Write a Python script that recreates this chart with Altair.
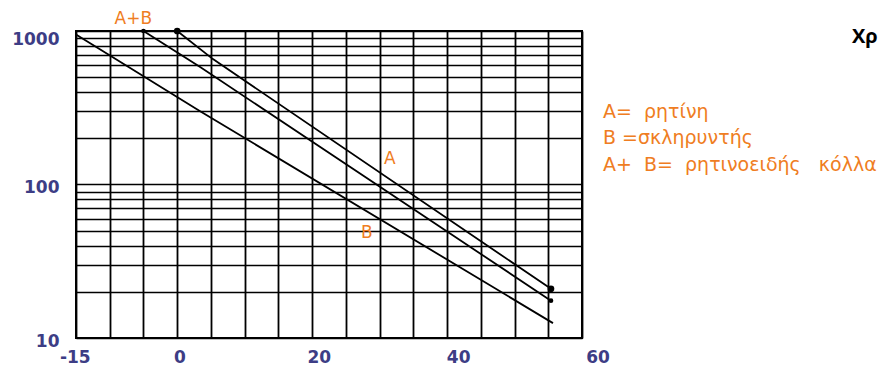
import altair as alt
import pandas as pd

# ---- data ----
series_names = ["A", "A+B", "B"]
a_x = [0, 5.3, 55.4]
a_y = [1000, 656, 20.9]
ab_x = [-5, 3.4, 55.4]
ab_y = [1000, 582, 17.5]
b_x = [-15, 3.4, 55.7]
b_y = [950, 300, 12.5]

label_text = ["A+B", "A", "B"]
label_x = [-6.5, 31.5, 28.1]
label_y = [1200, 146, 48.5]

big_dot_x = [0, 55.4]
big_dot_y = [1000, 20.9]
small_dot_x = [-5, 55.4]
small_dot_y = [1000, 17.5]

x_tick_labels = [-15, 0, 20, 40, 60]
x_tick_text = ["-15", "0", "20", "40", "60"]
x_grid_values = list(range(-15, 61, 5))
y_tick_labels = [10, 100, 1000]
y_grid_values = [10, 20, 30, 40, 50, 60, 70, 80, 90,
                 100, 200, 300, 400, 500, 600, 700, 800, 900, 1000]

NB = "\u00a0"
legend_lines = [
    "A=" + NB * 2 + "ρητίνη",
    "B" + NB + "=σκληρυντής",
    "A+" + NB * 2 + "B=" + NB * 2 + "ρητινοειδής" + NB * 3 + "κόλλα",
]
title_text = "Χρ"

ORANGE = "#EF7D22"
AXIS_COLOR = "#3d3d85"

rows = []
for name, xs, ys in zip(series_names, [a_x, ab_x, b_x], [a_y, ab_y, b_y]):
    for i, (xv, yv) in enumerate(zip(xs, ys)):
        rows.append({"series": name, "order": i, "x": xv, "y": yv})
lines_df = pd.DataFrame(rows)

xscale = alt.Scale(domain=[-15, 60], nice=False, zero=False)
yscale = alt.Scale(type="log", domain=[10, 1000], nice=False)

label_expr = "indexof([10, 100, 1000], datum.value) >= 0 ? datum.label : ''"

lines = alt.Chart(lines_df).mark_line(color="black", strokeWidth=1.8).encode(
    x=alt.X("x:Q", scale=xscale,
            axis=alt.Axis(values=x_grid_values, tickCount=100, labels=False,
                          ticks=False, domain=False, title=None, grid=True,
                          gridColor="black", gridOpacity=1, gridWidth=1.8)),
    y=alt.Y("y:Q", scale=yscale,
            axis=alt.Axis(values=y_grid_values, tickCount=100, format="d",
                          labelExpr=label_expr,
                          ticks=False, domain=False, title=None, grid=True,
                          gridColor="black", gridOpacity=1, gridWidth=1.6,
                          labelFont="DejaVu Sans", labelFontSize=17,
                          labelFontWeight="bold", labelColor=AXIS_COLOR,
                          labelPadding=17,
                          labelOffset=alt.condition("datum.value >= 1000",
                                                    alt.value(8), alt.value(3)))),
    detail="series:N",
    order="order:Q",
)

big_dots = alt.Chart(pd.DataFrame({"x": big_dot_x, "y": big_dot_y})).mark_circle(
    color="black", size=45, opacity=1
).encode(x=alt.X("x:Q", scale=xscale), y=alt.Y("y:Q", scale=yscale))

small_dots = alt.Chart(pd.DataFrame({"x": small_dot_x, "y": small_dot_y})).mark_circle(
    color="black", size=22, opacity=1
).encode(x=alt.X("x:Q", scale=xscale), y=alt.Y("y:Q", scale=yscale))

labels = alt.Chart(pd.DataFrame({"t": label_text, "x": label_x, "y": label_y})).mark_text(
    color=ORANGE, font="DejaVu Sans", fontSize=17, align="center", baseline="middle"
).encode(x=alt.X("x:Q", scale=xscale), y=alt.Y("y:Q", scale=yscale), text="t:N")

base = alt.layer(lines, big_dots, small_dots, labels)

# x tick labels as drawn on the paper (slightly offset from the grid)
xlab = alt.Chart(pd.DataFrame({"v": x_tick_labels, "t": x_tick_text})).mark_text(
    color=AXIS_COLOR, font="DejaVu Sans", fontSize=17, fontWeight="bold",
    align="center", baseline="alphabetic"
).encode(
    x=alt.X("v:Q", scale=alt.Scale(domain=[-14.9, 57.7], nice=False, zero=False),
            axis=None),
    y=alt.value(332),
    text="t:N",
)

legend_y = [87, 113, 140]
legend_layers = []
for txt, yy in zip(legend_lines, legend_y):
    legend_layers.append(
        alt.Chart(pd.DataFrame({"t": [txt]})).mark_text(
            color=ORANGE, font="DejaVu Sans", fontSize=19, align="left",
            baseline="alphabetic"
        ).encode(x=alt.value(527), y=alt.value(yy), text="t:N")
    )

title = alt.Chart(pd.DataFrame({"t": [title_text]})).mark_text(
    color="black", font="Open Sans", fontSize=20, fontWeight="bold",
    align="left", baseline="alphabetic"
).encode(x=alt.value(776), y=alt.value(12), text="t:N")

chart = alt.layer(base, xlab, *legend_layers, title).resolve_scale(
    x="independent"
).properties(
    width=506,
    height=307,
    autosize=alt.AutoSizeParams(type="none"),
    padding={"left": 68, "top": 23, "right": 296, "bottom": 29},
).configure_view(stroke="black", strokeWidth=2)

chart.save("out.html", embed_options={"renderer": "svg", "actions": False})
